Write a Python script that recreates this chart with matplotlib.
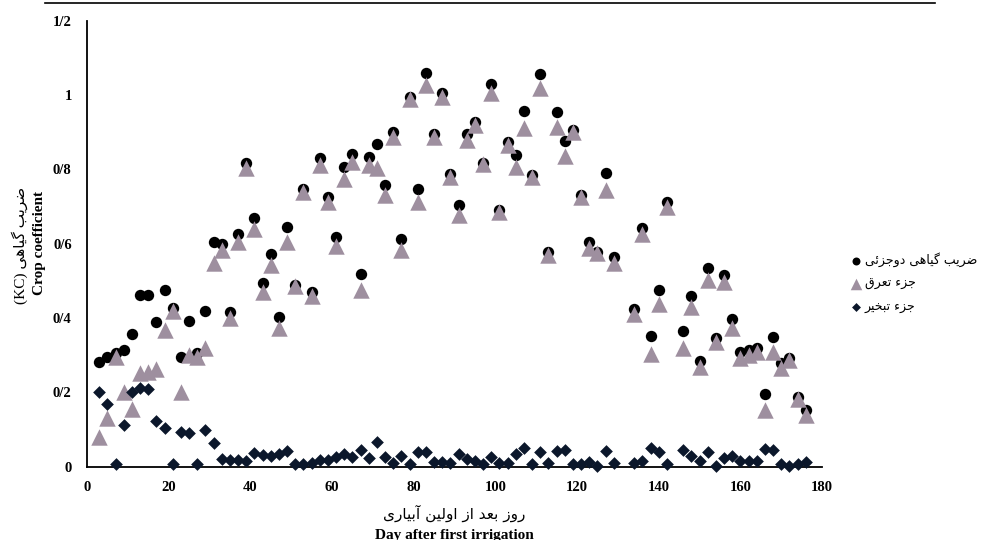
import matplotlib
matplotlib.use('Agg')
import matplotlib.pyplot as plt
from matplotlib.lines import Line2D

# days after first irrigation
days = [3, 5, 7, 9, 11, 13, 15, 17, 19, 21, 23, 25, 27, 29, 31, 33, 35, 37, 39, 41,
        43, 45, 47, 49, 51, 53, 55, 57, 59, 61, 63, 65, 67, 69, 71, 73, 75, 77, 79, 81,
        83, 85, 87, 89, 91, 93, 95, 97, 99, 101, 103, 105, 107, 109, 111, 113, 115, 117, 119, 121,
        123, 125, 127, 129, 134, 136, 138, 140, 142,
        146, 148, 150, 152, 154, 156, 158, 160, 162, 164, 166, 168, 170, 172, 174, 176]

# dual crop coefficient (Kc)
kc = [0.282, 0.296, 0.305, 0.314, 0.356, 0.463, 0.461, 0.390, 0.475, 0.426,
      0.296, 0.392, 0.305, 0.419, 0.605, 0.600, 0.417, 0.625, 0.816, 0.669,
      0.495, 0.571, 0.403, 0.645, 0.490, 0.748, 0.469, 0.829, 0.726, 0.618,
      0.806, 0.840, 0.517, 0.833, 0.869, 0.757, 0.899, 0.612, 0.995, 0.747,
      1.060, 0.894, 1.006, 0.786, 0.705, 0.896, 0.927, 0.818, 1.028, 0.690,
      0.872, 0.838, 0.956, 0.784, 1.057, 0.578, 0.953, 0.876, 0.906, 0.732,
      0.603, 0.578, 0.789, 0.565,
      0.424, 0.643, 0.352, 0.475, 0.712,
      0.365, 0.460, 0.284, 0.535, 0.345, 0.515, 0.397, 0.309, 0.314, 0.320,
      0.195, 0.349, 0.278, 0.291, 0.188, 0.152]

# transpiration part (Kcb)
kcb = [0.081, 0.130, 0.296, 0.202, 0.155, 0.251, 0.255, 0.264, 0.367, 0.419,
       0.202, 0.300, 0.296, 0.320, 0.547, 0.583, 0.399, 0.605, 0.802, 0.639,
       0.469, 0.542, 0.374, 0.605, 0.486, 0.739, 0.460, 0.811, 0.712, 0.594,
       0.775, 0.820, 0.475, 0.811, 0.802, 0.730, 0.887, 0.583, 0.990, 0.712,
       1.026, 0.887, 0.995, 0.780, 0.678, 0.878, 0.919, 0.813, 1.004, 0.684,
       0.865, 0.806, 0.910, 0.780, 1.019, 0.569, 0.914, 0.836, 0.899, 0.726,
       0.587, 0.574, 0.744, 0.549,
       0.412, 0.627, 0.302, 0.437, 0.699,
       0.320, 0.430, 0.269, 0.502, 0.336, 0.497, 0.372, 0.291, 0.300, 0.309,
       0.152, 0.309, 0.265, 0.287, 0.182, 0.139]

# evaporation part (Ke)
ke = [0.202, 0.169, 0.006, 0.112, 0.202, 0.212, 0.210, 0.123, 0.105, 0.006,
      0.092, 0.090, 0.006, 0.099, 0.063, 0.021, 0.019, 0.019, 0.015, 0.036,
      0.031, 0.030, 0.035, 0.042, 0.006, 0.008, 0.010, 0.017, 0.019, 0.027,
      0.033, 0.027, 0.045, 0.024, 0.067, 0.027, 0.010, 0.030, 0.008, 0.039,
      0.039, 0.013, 0.013, 0.010, 0.033, 0.021, 0.016, 0.006, 0.027, 0.010,
      0.010, 0.033, 0.051, 0.006, 0.039, 0.010, 0.042, 0.045, 0.008, 0.008,
      0.013, 0.002, 0.042, 0.010,
      0.010, 0.016, 0.051, 0.039, 0.008,
      0.045, 0.030, 0.016, 0.039, 0.002, 0.024, 0.030, 0.016, 0.016, 0.016,
      0.048, 0.045, 0.008, 0.002, 0.008, 0.013]

xticks = [0, 20, 40, 60, 80, 100, 120, 140, 160, 180]
yticks = [0, 0.2, 0.4, 0.6, 0.8, 1.0, 1.2]
ytick_labels = ['0', '0/2', '0/4', '0/6', '0/8', '1', '1/2']

series_names = ['ضریب گیاهی دوجزئی', 'جزء تعرق', 'جزء تبخیر']
ylabel_fa = 'ضریب گیاهی'
xlabel_fa = 'روز بعد از اولین آبیاری'

# Arabic presentation forms: isolated, final, initial, medial
FORMS = {
    'ء': ('\uFE80', None, None, None),
    'آ': ('\uFE81', '\uFE82', None, None),
    'ا': ('\uFE8D', '\uFE8E', None, None),
    'ئ': ('\uFE89', '\uFE8A', '\uFE8B', '\uFE8C'),
    'ب': ('\uFE8F', '\uFE90', '\uFE91', '\uFE92'),
    'ت': ('\uFE95', '\uFE96', '\uFE97', '\uFE98'),
    'ج': ('\uFE9D', '\uFE9E', '\uFE9F', '\uFEA0'),
    'خ': ('\uFEA5', '\uFEA6', '\uFEA7', '\uFEA8'),
    'د': ('\uFEA9', '\uFEAA', None, None),
    'ر': ('\uFEAD', '\uFEAE', None, None),
    'ز': ('\uFEAF', '\uFEB0', None, None),
    'ض': ('\uFEBD', '\uFEBE', '\uFEBF', '\uFEC0'),
    'ع': ('\uFEC9', '\uFECA', '\uFECB', '\uFECC'),
    'ق': ('\uFED5', '\uFED6', '\uFED7', '\uFED8'),
    'ل': ('\uFEDD', '\uFEDE', '\uFEDF', '\uFEE0'),
    'ن': ('\uFEE5', '\uFEE6', '\uFEE7', '\uFEE8'),
    'ه': ('\uFEE9', '\uFEEA', '\uFEEB', '\uFEEC'),
    'و': ('\uFEED', '\uFEEE', None, None),
    'ی': ('\uFBFC', '\uFBFD', '\uFBFE', '\uFBFF'),
    'گ': ('\uFB92', '\uFB93', '\uFB94', '\uFB95'),
}


def fa(text):
    """Shape Persian letters and return them in visual (left to right) order"""
    out = []
    for i, ch in enumerate(text):
        if ch not in FORMS:
            out.append(ch)
            continue
        f = FORMS[ch]
        prev = text[i - 1] if i > 0 else ''
        nxt = text[i + 1] if i + 1 < len(text) else ''
        join_prev = f[1] is not None and prev in FORMS and FORMS[prev][2] is not None
        join_next = f[2] is not None and nxt in FORMS and FORMS[nxt][1] is not None
        if join_prev and join_next:
            out.append(f[3])
        elif join_prev:
            out.append(f[1])
        elif join_next:
            out.append(f[2])
        else:
            out.append(f[0])
    return ''.join(out)[::-1]


serif = ['Liberation Serif', 'DejaVu Sans']
persian = ['DejaVu Sans']

fig = plt.figure(figsize=(9.84, 5.40), dpi=100)
ax = fig.add_axes([87 / 984, 1 - 466.7 / 540, 735 / 984, 446.2 / 540])

ax.scatter(days, kc, s=67, marker='o', color='black', linewidths=0,
           label=fa(series_names[0]), zorder=3, clip_on=False)
ax.scatter(days, kcb, s=140, marker='^', color='#9e8f9f', linewidths=0,
           label=fa(series_names[1]), zorder=4, clip_on=False)
ax.scatter(days, ke, s=42, marker='D', color='#0b172b', linewidths=0,
           label=fa(series_names[2]), zorder=5, clip_on=False)

ax.set_xlim(0, 180)
ax.set_ylim(0, 1.2)
ax.set_xticks(xticks)
ax.set_xticklabels([str(t) for t in xticks], fontfamily=serif, fontweight='bold', fontsize=10.5)
ax.set_yticks(yticks)
ax.set_yticklabels(ytick_labels, fontfamily=serif, fontweight='bold', fontsize=10.5)
ax.tick_params(axis='both', length=0)
ax.tick_params(axis='y', pad=11)
ax.tick_params(axis='x', pad=10)

for side in ['top', 'right']:
    ax.spines[side].set_visible(False)
for side in ['left', 'bottom']:
    ax.spines[side].set_linewidth(1.3)
    ax.spines[side].set_color('black')

# axis titles (Persian and English)
fig.text(454.5 / 984, 1 - 513 / 540, fa(xlabel_fa), ha='center', va='center',
         fontfamily=persian, fontsize=11)
fig.text(454.5 / 984, 1 - 535 / 540, 'Day after first irrigation', ha='center', va='center',
         fontfamily=serif, fontweight='bold', fontsize=11)
fig.text(20 / 984, 1 - 245 / 540, '(KC) ' + fa(ylabel_fa), ha='center', va='center',
         rotation=90, fontfamily=serif, fontsize=11)
fig.text(40 / 984, 1 - 243 / 540, 'Crop coefficient', ha='center', va='center',
         rotation=90, fontfamily=serif, fontweight='bold', fontsize=11)

ax.legend(loc='center left', bbox_to_anchor=(840 / 984, 1 - 283 / 540),
          bbox_transform=fig.transFigure, frameon=False, markerscale=0.7,
          handlelength=0.8, handletextpad=0.3, labelspacing=0.8,
          prop={'family': persian, 'size': 9})

# rule at the top of the page
fig.add_artist(Line2D([45 / 984, 935 / 984], [1 - 3 / 540, 1 - 3 / 540],
                      color='black', linewidth=1.2, transform=fig.transFigure))

fig.savefig('out.png', dpi=100)
